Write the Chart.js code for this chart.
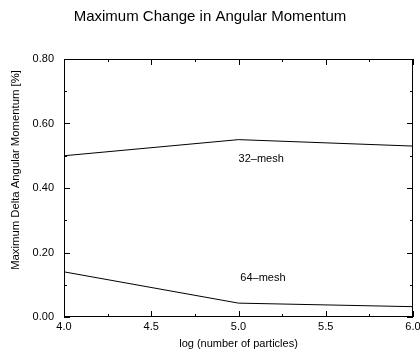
<!DOCTYPE html>
<html>
<head>
<meta charset="utf-8">
<script src="https://cdn.jsdelivr.net/npm/chart.js@4.4.0/dist/chart.umd.min.js"></script>
<style>
html,body{margin:0;padding:0;background:#fff;}
#wrap{width:420px;height:351px;}
</style>
</head>
<body>
<div id="wrap"><canvas id="c" width="420" height="351"></canvas></div>
<script>
const particlesLog = [4.0, 5.0, 6.0];
const mesh32 = [0.50, 0.55, 0.53];
const mesh64 = [0.14, 0.043, 0.032];
const xTicks = [4.0, 4.5, 5.0, 5.5, 6.0];
const yTicks = [0.00, 0.20, 0.40, 0.60, 0.80];
const seriesLabels = ['32\u2013mesh', '64\u2013mesh'];
const labelPos = [[5.13, 0.49], [5.14, 0.12]];
const yAxisTitle = 'Maximum Delta Angular Momentum [%]';

const FONT = 'Liberation Sans, Arial, Helvetica, sans-serif';

const framePlugin = {
  id: 'frame',
  afterDraw(chart) {
    const {ctx, chartArea: a, scales: {x, y}} = chart;
    ctx.save();
    ctx.strokeStyle = '#000';
    ctx.lineWidth = 1;
    ctx.strokeRect(a.left + 0.5, a.top + 0.5, a.right - a.left - 1, a.bottom - a.top - 1);
    ctx.beginPath();
    for (let v = 4.0; v <= 6.0001; v += 0.25) {
      const px = Math.round(x.getPixelForValue(v)) + 0.5;
      const major = Math.abs(v * 2 - Math.round(v * 2)) < 1e-6;
      const len = major ? 6 : 3;
      ctx.moveTo(px, a.bottom); ctx.lineTo(px, a.bottom - len);
      ctx.moveTo(px, a.top); ctx.lineTo(px, a.top + len);
    }
    for (let i = 0; i <= 8; i++) {
      const v = i * 0.1;
      const py = Math.round(y.getPixelForValue(v)) + 0.5;
      const major = i % 2 === 0;
      const len = major ? 6 : 3;
      ctx.moveTo(a.left, py); ctx.lineTo(a.left + len, py);
      ctx.moveTo(a.right, py); ctx.lineTo(a.right - len, py);
    }
    ctx.stroke();
    ctx.fillStyle = '#000';
    ctx.font = '11px ' + FONT;
    ctx.textAlign = 'center';
    ctx.textBaseline = 'middle';
    seriesLabels.forEach((t, i) => {
      ctx.fillText(t, x.getPixelForValue(labelPos[i][0]), y.getPixelForValue(labelPos[i][1]));
    });
    ctx.save();
    ctx.translate(16, 170);
    ctx.rotate(-Math.PI / 2);
    ctx.font = '11.3px ' + FONT;
    ctx.fillText(yAxisTitle, 0, 0);
    ctx.restore();
    ctx.restore();
  }
};

new Chart(document.getElementById('c'), {
  type: 'scatter',
  data: {
    datasets: [
      { label: seriesLabels[0], data: particlesLog.map((v, i) => ({x: v, y: mesh32[i]})), showLine: true, borderColor: '#000', borderWidth: 1, pointRadius: 0, fill: false, tension: 0 },
      { label: seriesLabels[1], data: particlesLog.map((v, i) => ({x: v, y: mesh64[i]})), showLine: true, borderColor: '#000', borderWidth: 1, pointRadius: 0, fill: false, tension: 0 }
    ]
  },
  options: {
    responsive: false,
    animation: false,
    devicePixelRatio: 1,
    layout: { padding: { top: 0, right: 7, bottom: 0, left: 7 } },
    plugins: {
      legend: { display: false },
      tooltip: { enabled: false },
      title: {
        display: true,
        text: 'Maximum Change in Angular Momentum',
        color: '#000',
        font: { family: FONT, size: 15, weight: 'normal', lineHeight: 1.2 },
        padding: { top: 8, bottom: 33 }
      }
    },
    scales: {
      x: {
        type: 'linear', min: 4, max: 6,
        afterBuildTicks(s) { s.ticks = xTicks.map(v => ({value: v})); },
        afterFit(s) { s.height = 34; s.paddingLeft = 0; s.paddingRight = 0; },
        grid: { display: false, drawTicks: false },
        border: { display: false },
        ticks: { color: '#000', padding: 3, maxRotation: 0, font: { family: FONT, size: 11 }, callback: v => v.toFixed(1) },
        title: { display: true, text: 'log (number of particles)', color: '#000', padding: { top: 1, bottom: 0 }, font: { family: FONT, size: 11 } }
      },
      y: {
        type: 'linear', min: 0, max: 0.8,
        afterBuildTicks(s) { s.ticks = yTicks.map(v => ({value: v})); },
        afterFit(s) { s.width = 57; s.paddingTop = 0; s.paddingBottom = 0; },
        grid: { display: false, drawTicks: false },
        border: { display: false },
        ticks: { color: '#000', padding: 10, font: { family: FONT, size: 11 }, callback: v => v.toFixed(2) },
        title: { display: false }
      }
    }
  },
  plugins: [framePlugin]
});
</script>
</body>
</html>
